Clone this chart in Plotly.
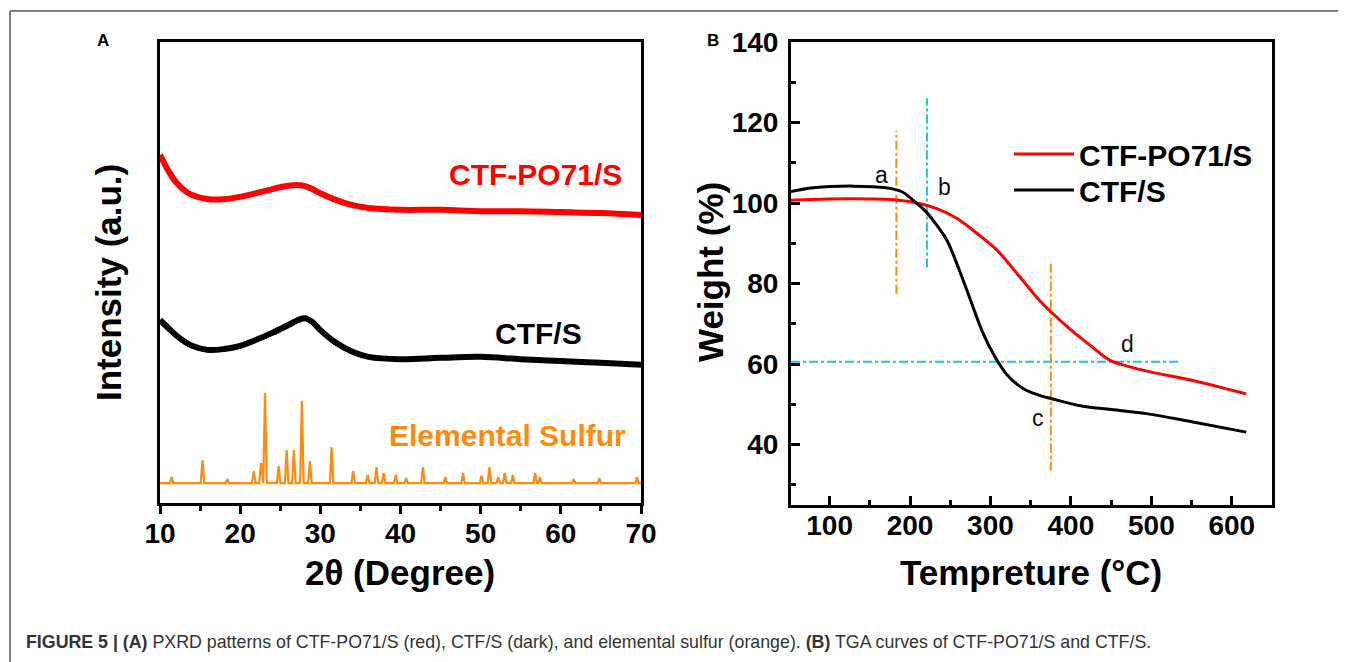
import plotly.graph_objects as go

W, H = 1346, 662
OFF = 8  # page body margin compensation (px)

# ---------------- Panel A: PXRD ----------------
pxrd_theta = [10, 11, 12, 13, 14, 16, 18, 20, 22, 24, 26, 27, 28, 29, 30, 32, 34, 36, 40, 45, 50, 55, 60, 65, 70]
ctf_po71_s_xrd = [75.5, 72.2, 69.6, 67.9, 66.8, 65.9, 65.9, 66.4, 67.2, 68.1, 68.8, 69.0, 68.8, 68.1, 67.2,
                  65.7, 64.6, 64.0, 63.6, 63.6, 63.3, 63.3, 63.1, 62.9, 62.5]
ctf_s_xrd = [39.7, 38.0, 36.4, 35.1, 34.1, 33.2, 33.4, 34.1, 35.4, 36.9, 38.6, 39.5, 40.1, 39.3, 37.5,
             34.7, 32.8, 31.7, 31.2, 31.5, 31.7, 31.2, 30.8, 30.4, 30.0]

sulfur_baseline = 4.3
sulfur_peak_pos = [11.45, 15.3, 18.4, 21.7, 22.6, 23.1, 24.8, 25.8, 26.7, 27.7, 28.7, 31.4, 34.1, 35.9, 37.0,
                   37.9, 39.4, 40.7, 42.8, 45.6, 47.8, 50.1, 51.1, 52.2, 53.0, 54.0, 56.8, 57.4, 61.6, 64.8, 69.5]
sulfur_peak_int = [5.6, 9.3, 5.2, 6.9, 8.7, 23.9, 8.0, 11.5, 11.5, 22.2, 9.1, 12.1, 6.9, 6.1, 7.8,
                   6.5, 6.1, 5.4, 7.8, 5.6, 6.5, 5.9, 7.8, 5.6, 6.5, 6.1, 6.5, 5.6, 5.2, 5.4, 5.6]
peak_half_width = 0.22

# ---------------- Panel B: TGA ----------------
tga_temp_red = [50, 100, 150, 180, 209, 235, 258, 283, 308, 335, 361, 375, 400, 425, 448, 470, 500, 550, 618]
tga_ctf_po71_s = [100.7, 101.0, 101.0, 100.8, 100.0, 98.5, 96.2, 92.5, 88.3, 82.0, 75.8, 73.0, 68.5, 64.5,
                  61.0, 59.5, 58.0, 56.0, 52.6]
tga_temp_black = [50, 80, 130, 170, 190, 206, 220, 235, 246, 260, 275, 290, 305, 320, 340, 360, 376, 410,
                  450, 494, 550, 618]
tga_ctf_s = [102.8, 103.8, 104.2, 103.8, 102.8, 100.3, 97.8, 94.0, 90.7, 84.0, 76.0, 68.0, 62.0, 57.5, 54.0,
             52.3, 51.4, 49.7, 48.7, 47.7, 45.7, 43.1]

# guide lines (temperature, weight ranges)
line_a = dict(T=183, W=(77.5, 118))
line_b = dict(T=221, W=(84, 126))
line_c = dict(T=375, W=(33.5, 85))
line_h = dict(W=60.6, T=(52, 535))
point_labels = ["a", "b", "c", "d"]
point_label_T = [164, 243, 359, 470]
point_label_W = [107, 104, 46.5, 65]

FONT = "Liberation Sans, Arial, sans-serif"
ORANGE = "#FF8A10"
CYAN = "#1CC6CE"


def fx(px):
    return (px - OFF) / W


def fy(py):
    return 1 - (py - OFF) / H


# build sulfur profile from read peak positions/heights
s_x = [10.0]
s_y = [sulfur_baseline]
for p, h in zip(sulfur_peak_pos, sulfur_peak_int):
    s_x += [p - peak_half_width, p, p + peak_half_width]
    s_y += [sulfur_baseline, h, sulfur_baseline]
s_x.append(70.0)
s_y.append(sulfur_baseline)

fig = go.Figure()

fig.add_trace(go.Scatter(x=pxrd_theta, y=ctf_po71_s_xrd, mode="lines", line=dict(color="#FF0000", width=6, shape="spline"),
                         xaxis="x", yaxis="y", showlegend=False, name="CTF-PO71/S"))
fig.add_trace(go.Scatter(x=pxrd_theta, y=ctf_s_xrd, mode="lines", line=dict(color="#000000", width=6, shape="spline"),
                         xaxis="x", yaxis="y", showlegend=False, name="CTF/S"))
fig.add_trace(go.Scatter(x=s_x, y=s_y, mode="lines", line=dict(color=ORANGE, width=2.2),
                         xaxis="x", yaxis="y", showlegend=False, name="Elemental Sulfur"))

# guide lines panel B
fig.add_trace(go.Scatter(x=[line_a["T"]] * 2, y=list(line_a["W"]), mode="lines",
                         line=dict(color=ORANGE, width=2, dash="dashdot"), xaxis="x2", yaxis="y2", showlegend=False))
fig.add_trace(go.Scatter(x=[line_b["T"]] * 2, y=list(line_b["W"]), mode="lines",
                         line=dict(color=CYAN, width=2, dash="dashdot"), xaxis="x2", yaxis="y2", showlegend=False))
fig.add_trace(go.Scatter(x=[line_c["T"]] * 2, y=list(line_c["W"]), mode="lines",
                         line=dict(color=ORANGE, width=2, dash="dashdot"), xaxis="x2", yaxis="y2", showlegend=False))
fig.add_trace(go.Scatter(x=list(line_h["T"]), y=[line_h["W"]] * 2, mode="lines",
                         line=dict(color=CYAN, width=2, dash="dashdot"), xaxis="x2", yaxis="y2", showlegend=False))

fig.add_trace(go.Scatter(x=tga_temp_red, y=tga_ctf_po71_s, mode="lines", line=dict(color="#FF0000", width=3, shape="spline"),
                         xaxis="x2", yaxis="y2", name="CTF-PO71/S", legend="legend"))
fig.add_trace(go.Scatter(x=tga_temp_black, y=tga_ctf_s, mode="lines", line=dict(color="#000000", width=3, shape="spline"),
                         xaxis="x2", yaxis="y2", name="CTF/S", legend="legend2"))

tickfont = dict(family=FONT, size=28, color="black", weight="bold")
common = dict(showline=True, linecolor="black", linewidth=3, mirror=True, showgrid=False, zeroline=False,
              tickfont=tickfont, tickcolor="black", tickwidth=2.5, automargin=False)

legend_common = dict(xanchor="left", yanchor="middle", bgcolor="rgba(0,0,0,0)", borderwidth=0, itemwidth=60,
                     font=dict(family=FONT, size=30, color="black", weight="bold"))

fig.update_layout(
    template="none",
    width=W, height=H, margin=dict(l=0, r=0, t=0, b=0, pad=0), autosize=False,
    paper_bgcolor="white", plot_bgcolor="white",
    xaxis=dict(domain=[fx(160), fx(641)], range=[10, 70], anchor="y", ticks="outside", ticklen=8,
               tick0=10, dtick=10, ticklabelstandoff=-5,
               minor=dict(ticks="outside", ticklen=5, dtick=5, tick0=10, tickwidth=2.5, tickcolor="black"), **common),
    yaxis=dict(domain=[fy(503), fy(42)], range=[0, 100], anchor="x", ticks="", showticklabels=False, **common),
    xaxis2=dict(domain=[fx(791), fx(1272)], range=[52, 650], anchor="y2", ticks="inside", ticklen=9,
                tick0=0, dtick=100, ticklabelstandoff=-7,
                minor=dict(ticks="inside", ticklen=5, dtick=50, tick0=0, tickwidth=2.5, tickcolor="black"), **common),
    yaxis2=dict(domain=[fy(505), fy(42)], range=[25, 140], anchor="x2", ticks="inside", ticklen=9,
                tick0=0, dtick=20, ticklabelstandoff=4,
                minor=dict(ticks="inside", ticklen=5, dtick=10, tick0=0, tickwidth=2.5, tickcolor="black"), **common),
    legend=dict(x=fx(1009), y=fy(154), **legend_common),
    legend2=dict(x=fx(1009), y=fy(190), **legend_common),
    showlegend=True,
)


def label(text, px, py, size, color="black", bold=True, angle=0, xa="center", family=FONT):
    f = dict(family=family, size=size, color=color)
    if bold:
        f["weight"] = "bold"
    return dict(text=text, x=fx(px), y=fy(py), xref="paper", yref="paper", xanchor=xa, yanchor="middle",
                showarrow=False, textangle=angle, font=f)


ann = []
# axis titles
ann.append(label("2θ (Degree)", 400, 572, 35))
ann.append(label("Intensity (a.u.)", 108, 283, 35, angle=-90))
ann.append(label("Tempreture (°C)", 1031, 572, 35))
ann.append(label("Weight (%)", 710, 272, 35, angle=-90))
# panel letters
ann.append(label("A", 103, 40, 17))
ann.append(label("B", 713, 40, 17))
# panel A series labels
ann.append(label("CTF-PO71/S", 624, 174, 30, color="#FF0000", xa="right"))
ann.append(label("CTF/S", 584, 333, 30, xa="right"))
ann.append(label("Elemental Sulfur", 628, 435, 30, color=ORANGE, xa="right"))
# point labels panel B
for t, tx, ty in zip(point_labels, point_label_T, point_label_W):
    ann.append(dict(text=t, x=tx, y=ty, xref="x2", yref="y2", xanchor="center", yanchor="middle", showarrow=False,
                    font=dict(family=FONT, size=23, color="#111")))
# caption
ann.append(label("<b>FIGURE 5 | (A)</b> PXRD patterns of CTF-PO71/S (red), CTF/S (dark), and elemental sulfur (orange). "
                 "<b>(B)</b> TGA curves of CTF-PO71/S and CTF/S.", 24, 642, 17.8, color="#333", bold=False, xa="left"))
fig.update_layout(annotations=ann)

# figure frame (top and left border)
fig.add_shape(type="line", xref="paper", yref="paper", x0=fx(10), x1=1, y0=fy(11), y1=fy(11),
              line=dict(color="#555", width=1.5))
fig.add_shape(type="line", xref="paper", yref="paper", x0=fx(10), x1=fx(10), y0=fy(11), y1=0,
              line=dict(color="#555", width=1.5))

fig.write_html("out.html")
